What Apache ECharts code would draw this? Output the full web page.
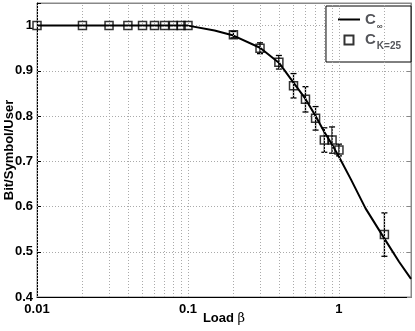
<!DOCTYPE html>
<html lang="en">
<head>
    <meta charset="UTF-8">
    <title>Load vs capacity</title>
    <script src="https://cdn.jsdelivr.net/npm/echarts@6/dist/echarts.min.js"></script>
    <style type="text/css">
        html, body { margin: 0; padding: 0; background: #fff; }
        #box { width: 415px; height: 331px; }
    </style>
</head>
<body>
    <div id="box"></div>
</body>
</html>
<script>
    // C_inf curve
    var infLoad = [0.01, 0.1, 0.15, 0.2, 0.3, 0.4, 0.5, 0.6, 0.7, 0.8, 0.9, 1, 1.2, 1.5, 2, 2.5, 3];
    var infCap = [1, 1, 0.989, 0.978, 0.951, 0.918, 0.874, 0.838, 0.8, 0.765, 0.737, 0.71, 0.66, 0.596, 0.529, 0.478, 0.44];

    // simulated K=25 points with error half-widths
    var kLoad = [0.01, 0.02, 0.03, 0.04, 0.05, 0.06, 0.07, 0.08, 0.09, 0.1, 0.2, 0.3, 0.4, 0.5, 0.6, 0.7, 0.8, 0.9, 1, 2];
    var kCap = [1, 1, 1, 1, 1, 1, 1, 1, 1, 1, 0.98, 0.95, 0.919, 0.867, 0.837, 0.795, 0.747, 0.747, 0.725, 0.538];
    var kErr = [0, 0, 0, 0, 0, 0, 0, 0, 0, 0, 0.007, 0.012, 0.015, 0.027, 0.028, 0.026, 0.027, 0.029, 0.013, 0.048];

    var yTicks = [0.4, 0.5, 0.6, 0.7, 0.8, 0.9, 1];
    var xGrid = [0.01, 0.02, 0.03, 0.04, 0.05, 0.06, 0.07, 0.08, 0.09, 0.1,
                 0.2, 0.3, 0.4, 0.5, 0.6, 0.7, 0.8, 0.9, 1, 2];

    var font = 'Liberation Sans';

    var errData = [];
    for (let i = 0; i < kLoad.length; i++) {
        if (kErr[i] > 0) errData.push([kLoad[i], kCap[i] - kErr[i], kCap[i] + kErr[i]]);
    }
    var kData = kLoad.map(function (x, i) { return [x, kCap[i]]; });
    var infData = infLoad.map(function (x, i) { return [x, infCap[i]]; });

    var mychart = echarts.init(document.getElementById("box"));

    var xLabel = function (v) {
        var l = Math.log10(v);
        return Math.abs(l - Math.round(l)) < 1e-6 ? String(+v.toFixed(4)) : '';
    };
    var yLabel = function (v) {
        for (var i = 0; i < yTicks.length; i++) {
            if (Math.abs(v - yTicks[i]) < 1e-6) return String(yTicks[i]);
        }
        return '';
    };

    mychart.setOption({
        animation: false,
        grid: {
            left: 37, right: 4, top: 3, bottom: 34,
            outerBoundsMode: 'none',
            show: true, borderColor: '#888', borderWidth: 1
        },
        legend: {
            orient: 'vertical',
            right: 4,
            top: 6,
            padding: [6, 10, 11, 12],
            itemGap: 2,
            itemWidth: 22,
            itemHeight: 9,
            symbolKeepAspect: true,
            backgroundColor: '#fff',
            borderColor: '#000',
            borderWidth: 1,
            borderRadius: 0,
            data: [
                { name: 'inf', icon: 'path://M0,0h22v2h-22z' },
                { name: 'k25', icon: 'path://M0,0h10v10h-10z' }
            ],
            formatter: function (name) {
                return name === 'inf' ? '{c|C}{s|\u221E}' : '{c|C}{k|K=25}';
            },
            textStyle: {
                rich: {
                    c: { fontFamily: font, fontWeight: 'bold', fontSize: 15, lineHeight: 22, verticalAlign: 'middle' },
                    s: { fontFamily: font, fontSize: 8, color: '#000', verticalAlign: 'bottom', lineHeight: 22, padding: [0, 0, 0, 1] },
                    k: { fontFamily: font, fontWeight: 'bold', fontSize: 10, verticalAlign: 'bottom', lineHeight: 22, padding: [0, 0, 0, 1] }
                }
            }
        },
        xAxis: [{
            type: 'log',
            logBase: 10,
            min: 0.01,
            max: 3,
            name: '{a|Load }{b|\u03B2}',
            nameLocation: 'middle',
            nameGap: 15,
            nameMoveOverlap: false,
            nameTextStyle: {
                rich: {
                    a: { fontFamily: font, fontWeight: 'bold', fontSize: 13, color: '#000' },
                    b: { fontFamily: 'DejaVu Serif', fontSize: 13, color: '#000' }
                }
            },
            axisLine: { lineStyle: { color: '#000', width: 1 } },
            axisTick: { show: false },
            splitLine: { show: false },
            axisLabel: { formatter: xLabel, color: '#000', fontFamily: font, fontWeight: 'bold', fontSize: 13, margin: 6, showMaxLabel: false }
        }, {
            type: 'log',
            logBase: 10,
            min: 0.01,
            max: 3,
            position: 'top',
            axisLine: { lineStyle: { color: '#888' } },
            axisTick: { show: false },
            splitLine: { show: false },
            axisLabel: { show: false }
        }],
        yAxis: [{
            type: 'value',
            min: 0.4,
            max: 1.05,
            interval: 0.1,
            name: 'Bit/Symbol/User',
            nameLocation: 'middle',
            nameGap: 21,
            nameMoveOverlap: false,
            nameTextStyle: { fontFamily: font, fontWeight: 'bold', fontSize: 13, color: '#000' },
            axisLine: { show: true, lineStyle: { color: '#000', width: 1 } },
            axisTick: { show: true, inside: true, length: 4, lineStyle: { color: '#000' } },
            splitLine: { show: true, lineStyle: { color: '#aaa', type: [1, 2], width: 1 } },
            axisLabel: { formatter: yLabel, color: '#000', fontFamily: font, fontWeight: 'bold', fontSize: 13, margin: 4 }
        }, {
            type: 'value',
            min: 0.4,
            max: 1.05,
            interval: 0.1,
            position: 'right',
            axisLine: { show: true, lineStyle: { color: '#888' } },
            axisTick: { show: true, inside: true, length: 4, lineStyle: { color: '#888' } },
            splitLine: { show: false },
            axisLabel: { show: false }
        }],
        series: [{
            // vertical grid lines at log decades and their multiples
            type: 'line',
            data: [],
            silent: true,
            z: 1,
            markLine: {
                silent: true,
                symbol: 'none',
                label: { show: false },
                lineStyle: { color: '#aaa', type: [1, 2], width: 1 },
                data: xGrid.map(function (v) { return { xAxis: v }; })
            }
        }, {
            name: 'inf',
            type: 'line',
            data: infData,
            symbol: 'none',
            z: 3,
            lineStyle: { color: '#000', width: 2 },
            itemStyle: { color: '#000' }
        }, {
            type: 'custom',
            data: errData,
            z: 4,
            renderItem: function (params, api) {
                var lo = api.coord([api.value(0), api.value(1)]);
                var hi = api.coord([api.value(0), api.value(2)]);
                var w = 3;
                var st = { stroke: '#000', lineWidth: 1.3 };
                return {
                    type: 'group',
                    children: [
                        { type: 'line', shape: { x1: lo[0], y1: lo[1], x2: hi[0], y2: hi[1] }, style: st },
                        { type: 'line', shape: { x1: lo[0] - w, y1: lo[1], x2: lo[0] + w, y2: lo[1] }, style: st },
                        { type: 'line', shape: { x1: hi[0] - w, y1: hi[1], x2: hi[0] + w, y2: hi[1] }, style: st }
                    ]
                };
            }
        }, {
            name: 'k25',
            type: 'scatter',
            data: kData,
            symbol: 'rect',
            symbolSize: 8,
            z: 5,
            itemStyle: { color: 'rgba(0,0,0,0)', borderColor: '#000', borderWidth: 1.5 }
        }]
    });
</script>
